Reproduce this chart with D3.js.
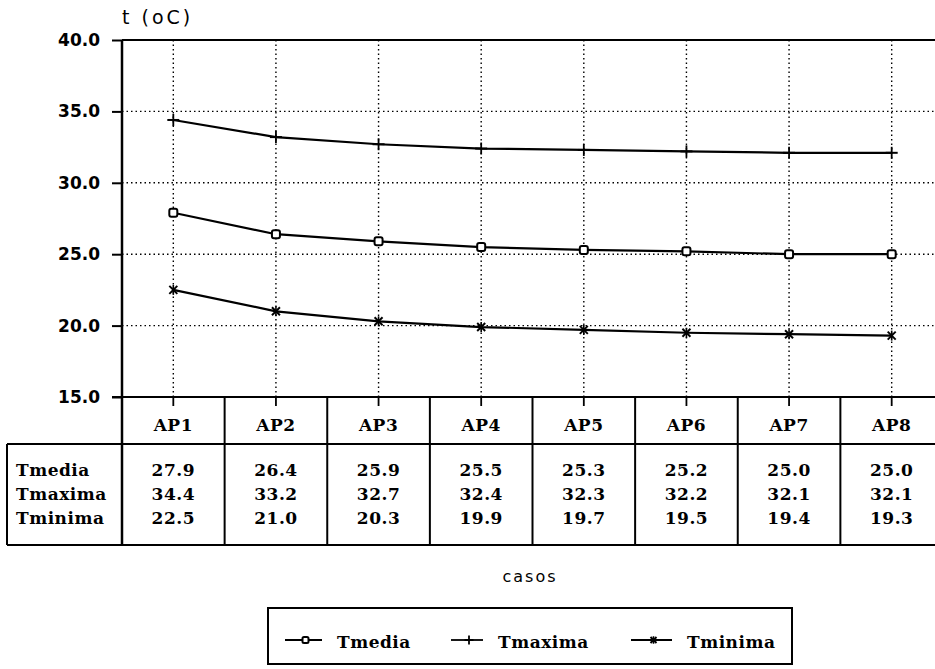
<!DOCTYPE html>
<html><head><meta charset="utf-8">
<script src="https://cdn.jsdelivr.net/npm/d3@7"></script>
<style>body{margin:0;background:#fff}</style>
</head><body>
<script>
const categories = ["AP1","AP2","AP3","AP4","AP5","AP6","AP7","AP8"];
const tmedia  = [27.9,26.4,25.9,25.5,25.3,25.2,25.0,25.0];
const tmaxima = [34.4,33.2,32.7,32.4,32.3,32.2,32.1,32.1];
const tminima = [22.5,21.0,20.3,19.9,19.7,19.5,19.4,19.3];
const seriesNames = ["Tmedia","Tmaxima","Tminima"];
const yTicks = [15,20,25,30,35,40];

const W = 935, H = 669;
const svg = d3.select("body").append("svg").attr("width",W).attr("height",H)
  .style("font-family","'DejaVu Sans', sans-serif");

const x = d3.scaleBand().domain(categories).range([122, 943]);
const y = d3.scaleLinear().domain([15,40]).range([397, 40]);
const cx = d => x(d) + x.bandwidth()/2;

const series = [
  {name: seriesNames[0], values: tmedia, sym: "square"},
  {name: seriesNames[1], values: tmaxima, sym: "plus"},
  {name: seriesNames[2], values: tminima, sym: "star"}
];

const tableFont = "'DejaVu Serif', serif";
const styleT = sel => sel.style("font-family",tableFont).style("font-weight","bold")
  .style("font-size","17px").style("letter-spacing","0.5px");

// grid
const g = svg.append("g");
g.selectAll(".hg").data(yTicks.filter(t => t > 15 && t < 40)).join("line")
  .attr("x1",122).attr("x2",W).attr("y1",d=>y(d)).attr("y2",d=>y(d))
  .attr("stroke","#000").attr("stroke-width",1.4).attr("stroke-dasharray","1.5,3");
g.selectAll(".vg").data(categories).join("line")
  .attr("x1",cx).attr("x2",cx).attr("y1",y(40)).attr("y2",y(15))
  .attr("stroke","#000").attr("stroke-width",1.4).attr("stroke-dasharray","1.5,3");

// y axis
const yAxis = d3.axisLeft(y).tickValues(yTicks).tickFormat(d3.format(".1f")).tickSize(10).tickPadding(12);
const ya = svg.append("g").attr("transform","translate(122,0)").call(yAxis);
ya.select(".domain").remove();
ya.selectAll("line").attr("stroke-width",2);
ya.selectAll("text").style("font-family","'DejaVu Sans', sans-serif").style("font-weight","bold")
  .style("font-size","17px").attr("fill","#000");

// frame lines
const line = (x1,y1,x2,y2,w=2)=>svg.append("line").attr("x1",x1).attr("y1",y1).attr("x2",x2).attr("y2",y2)
  .attr("stroke","#000").attr("stroke-width",w);
line(122,y(40),W,y(40));
line(122,y(40),122,545,2.5);
line(112,y(15),W,y(15));
line(7,444,W,444);
line(7,545,W,545);
line(7,444,7,545);
x.domain().forEach((c,i)=>{ if(i>0) line(x(c),397,x(c),545); });
categories.forEach(c=>line(cx(c),397,cx(c),406,1.8));

// x tick labels (header row)
svg.selectAll(".cat").data(categories).join("text")
  .attr("x",cx).attr("y",431).attr("text-anchor","middle")
  .call(styleT).text(d=>d);

// table rows
const rowY = [476, 500, 524];
series.forEach((s,i)=>{
  svg.append("text").attr("x",16).attr("y",rowY[i]).call(styleT).text(s.name);
  svg.selectAll(".v"+i).data(s.values).join("text")
    .attr("x",(d,j)=>cx(categories[j])).attr("y",rowY[i]).attr("text-anchor","middle")
    .call(styleT).text(d=>d3.format(".1f")(d));
});

// lines
const lg = d3.line().x((d,j)=>cx(categories[j])).y(d=>y(d));
series.forEach(s=>{
  svg.append("path").attr("d",lg(s.values)).attr("fill","none").attr("stroke","#000").attr("stroke-width",2.2);
});

function drawSym(sel, sym, px, py, k=1){
  if(sym==="square"){
    sel.append("rect").attr("x",px-4*k).attr("y",py-4*k).attr("width",8*k).attr("height",8*k).attr("rx",2*k)
      .attr("fill","#fff").attr("stroke","#000").attr("stroke-width",2);
  } else if(sym==="plus"){
    sel.append("line").attr("x1",px).attr("x2",px).attr("y1",py-6*k).attr("y2",py+6*k).attr("stroke","#000").attr("stroke-width",1.8);
    sel.append("line").attr("x1",px-6*k).attr("x2",px+6*k).attr("y1",py).attr("y2",py).attr("stroke","#000").attr("stroke-width",2);
  } else {
    sel.append("line").attr("x1",px-4*k).attr("x2",px+4*k).attr("y1",py-4*k).attr("y2",py+4*k).attr("stroke","#000").attr("stroke-width",2);
    sel.append("line").attr("x1",px+4*k).attr("x2",px-4*k).attr("y1",py-4*k).attr("y2",py+4*k).attr("stroke","#000").attr("stroke-width",2);
    sel.append("line").attr("x1",px).attr("x2",px).attr("y1",py-5*k).attr("y2",py+5*k).attr("stroke","#000").attr("stroke-width",1.6);
  }
}
series.forEach(s=>{
  const mg = svg.append("g");
  s.values.forEach((v,j)=>drawSym(mg, s.sym, cx(categories[j]), y(v)));
});

// titles
svg.append("text").attr("x",122).attr("y",24).style("font-size","19px").style("letter-spacing","3px").text("t (oC)");
svg.append("text").attr("x",530).attr("y",582).attr("text-anchor","middle")
  .style("font-size","16px").style("letter-spacing","2px").text("casos");

// legend
svg.append("rect").attr("x",268).attr("y",608).attr("width",524).attr("height",56)
  .attr("fill","none").attr("stroke","#000").attr("stroke-width",2);
const legX = [285, 451, 631];
const legW = [37, 32, 41];
series.forEach((s,i)=>{
  const lgp = svg.append("g");
  lgp.append("line").attr("x1",legX[i]).attr("x2",legX[i]+legW[i]).attr("y1",640).attr("y2",640)
    .attr("stroke","#000").attr("stroke-width",1.8);
  drawSym(lgp, s.sym, legX[i]+legW[i]/2+2, 640, 0.75);
  lgp.append("text").attr("x",legX[i]+legW[i]+15).attr("y",648).call(styleT).text(s.name);
});
</script>
</body></html>
